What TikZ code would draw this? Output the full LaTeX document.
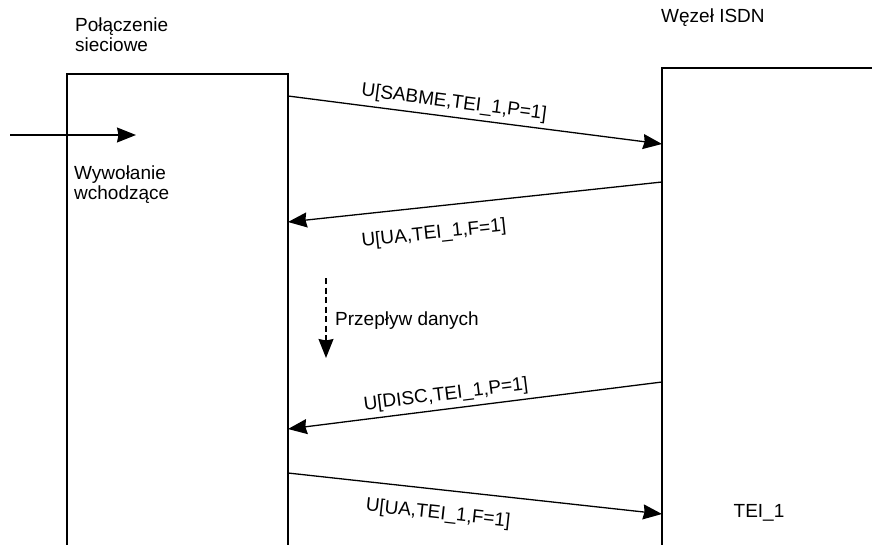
\documentclass[tikz,border=0pt]{standalone}
\usepackage{fontspec}
\setmainfont{Liberation Sans}
\usetikzlibrary{arrows.meta}
\begin{document}
\begin{tikzpicture}[x=1pt,y=-1pt,
  line/.style={line width=1.3pt, line cap=round, line join=miter},
  headtip/.style={-{Stealth[length=19pt,width=15pt,inset=1.5pt]}},
  msg/.style={line width=1.3pt, headtip},
  txt/.style={font=\fontsize{19}{21}\selectfont, inner sep=0pt},
  lbl/.style={font=\fontsize{19}{21}\selectfont, inner sep=0pt, anchor=center}]
\useasboundingbox (0,0) rectangle (872,545);
% lifelines / boxes
\draw[line] (67,545) -- (67,74) -- (288,74) -- (288,545);
\draw[line] (662,545) -- (662,68) -- (872,68);
% named end points on the box sides
\coordinate (inA) at (10,135);
\coordinate (inB) at (136,135);
\coordinate (L1) at (288,96);
\coordinate (R1) at (662,144);
\coordinate (R2) at (662,182);
\coordinate (L2) at (288,222);
\coordinate (R3) at (662,382);
\coordinate (L3) at (288,429);
\coordinate (L4) at (288,473);
\coordinate (R4) at (662,514);
\coordinate (dA) at (326,278);
\coordinate (dB) at (326,358);
% texts
\node[txt, anchor=base west] (pol1) at (75,32) {Połączenie};
\node[txt, anchor=base west] (pol2) at (75,52) {sieciowe};
\node[txt, anchor=base west] (wez) at (661,23) {Węzeł ISDN};
\node[txt, anchor=base west] (wyw1) at (74,180) {Wywołanie};
\node[txt, anchor=base west] (wyw2) at (74,200) {wchodzące};
\node[txt, anchor=base west] (prz) at (335,325) {Przepływ danych};
\node[lbl] (tei) at (759,513) {TEI\_1};
% connectors
\draw[msg] (inA) -- (inB);
\draw[msg] (L1) -- (R1);
\draw[msg] (R2) -- (L2);
\draw[msg] (R3) -- (L3);
\draw[msg] (L4) -- (R4);
\draw[line width=1.3pt, dash pattern=on 6pt off 3.5pt, headtip] (dA) -- (dB);
% message labels
\node[lbl, rotate=-7.35] (m1) at (454,103) {U[SABME,TEI\_1,P=1]};
\node[lbl, rotate=6.1] (m2) at (434,234) {U[UA,TEI\_1,F=1]};
\node[lbl, rotate=7.16] (m3) at (446,395) {U[DISC,TEI\_1,P=1]};
\node[lbl, rotate=-6.26] (m4) at (438,514) {U[UA,TEI\_1,F=1]};
\end{tikzpicture}
\end{document}
